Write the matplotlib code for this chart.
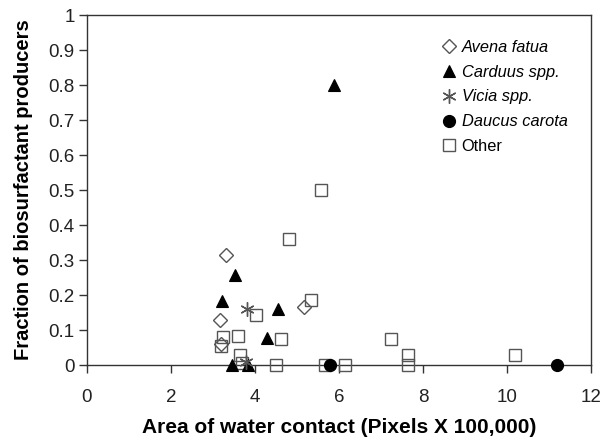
import matplotlib
matplotlib.use('Agg')
import matplotlib.pyplot as plt

plt.rcParams['font.family'] = ['Liberation Sans', 'DejaVu Sans']

# 各类群的数据点 (x: 接触面积 / 100,000 像素, y: 产表面活性剂菌比例)
avena_x = [3.31, 3.17, 3.19, 5.17]
avena_y = [0.314, 0.129, 0.06, 0.167]

carduus_x = [3.52, 3.21, 4.55, 4.29, 3.45, 3.83, 5.88]
carduus_y = [0.257, 0.183, 0.16, 0.077, 0.0, 0.0, 0.8]

vicia_x = [3.81, 3.78]
vicia_y = [0.16, 0.01]

daucus_x = [5.79, 11.19]
daucus_y = [0.0, 0.0]

other_x = [5.56, 4.81, 4.02, 5.33, 3.24, 3.60, 4.61, 3.19, 3.64, 3.68,
           4.50, 5.67, 6.14, 7.24, 7.64, 7.64, 10.19]
other_y = [0.5, 0.36, 0.143, 0.186, 0.08, 0.084, 0.073, 0.054, 0.029, 0.005,
           0.0, 0.0, 0.0, 0.073, 0.028, 0.0, 0.029]

xticks = [0, 2, 4, 6, 8, 10, 12]
yticks = [0, 0.1, 0.2, 0.3, 0.4, 0.5, 0.6, 0.7, 0.8, 0.9, 1]
ytick_labels = ['0', '0.1', '0.2', '0.3', '0.4', '0.5', '0.6', '0.7', '0.8', '0.9', '1']

grey = '#555555'

fig = plt.figure(figsize=(6.03, 4.40), dpi=100)
ax = fig.add_axes([87 / 603, 75 / 440, 504 / 603, 350 / 440])

ms = 8.5
ax.plot(avena_x, avena_y, ls='none', marker='D', ms=ms * 0.85, mfc='white',
        mec=grey, mew=1, label='Avena fatua', clip_on=False, zorder=3)
ax.plot(carduus_x, carduus_y, ls='none', marker='^', ms=ms, mfc='black',
        mec='black', mew=0.8, label='Carduus spp.', clip_on=False, zorder=4)
ax.plot(vicia_x, vicia_y, ls='none', marker=(6, 2, 0), ms=ms * 1.2,
        mec=grey, mew=1, label='Vicia spp.', clip_on=False, zorder=4)
ax.plot(daucus_x, daucus_y, ls='none', marker='o', ms=ms, mfc='black',
        mec='black', label='Daucus carota', clip_on=False, zorder=4)
ax.plot(other_x, other_y, ls='none', marker='s', ms=ms, mfc='none',
        mec=grey, mew=1, label='Other', clip_on=False, zorder=3)

ax.set_xlim(0, 12)
ax.set_ylim(0, 1)
ax.set_xticks(xticks)
ax.set_xticklabels([str(t) for t in xticks])
ax.set_yticks(yticks)
ax.set_yticklabels(ytick_labels)

for s in ax.spines.values():
    s.set_color('#333333')
    s.set_linewidth(1.0)

ax.tick_params(axis='both', direction='out', length=5.5, width=1,
               color='#333333', labelsize=13.5, labelcolor='#222222')
ax.tick_params(axis='x', pad=11.5)
ax.tick_params(axis='y', pad=3.5)

ax.set_xlabel('Area of water contact (Pixels X 100,000)', fontsize=15,
              fontweight='bold', labelpad=9)
ax.set_ylabel('Fraction of biosurfactant producers', fontsize=14.5,
              fontweight='bold', labelpad=11)

leg = ax.legend(loc='upper left', bbox_to_anchor=(0.696, 0.948), frameon=False,
                fontsize=11.8, handlelength=0.6, handletextpad=0.45,
                labelspacing=0.6, borderaxespad=0)
for txt in leg.get_texts()[:4]:
    txt.set_fontstyle('italic')

fig.savefig('out.png', dpi=100)
